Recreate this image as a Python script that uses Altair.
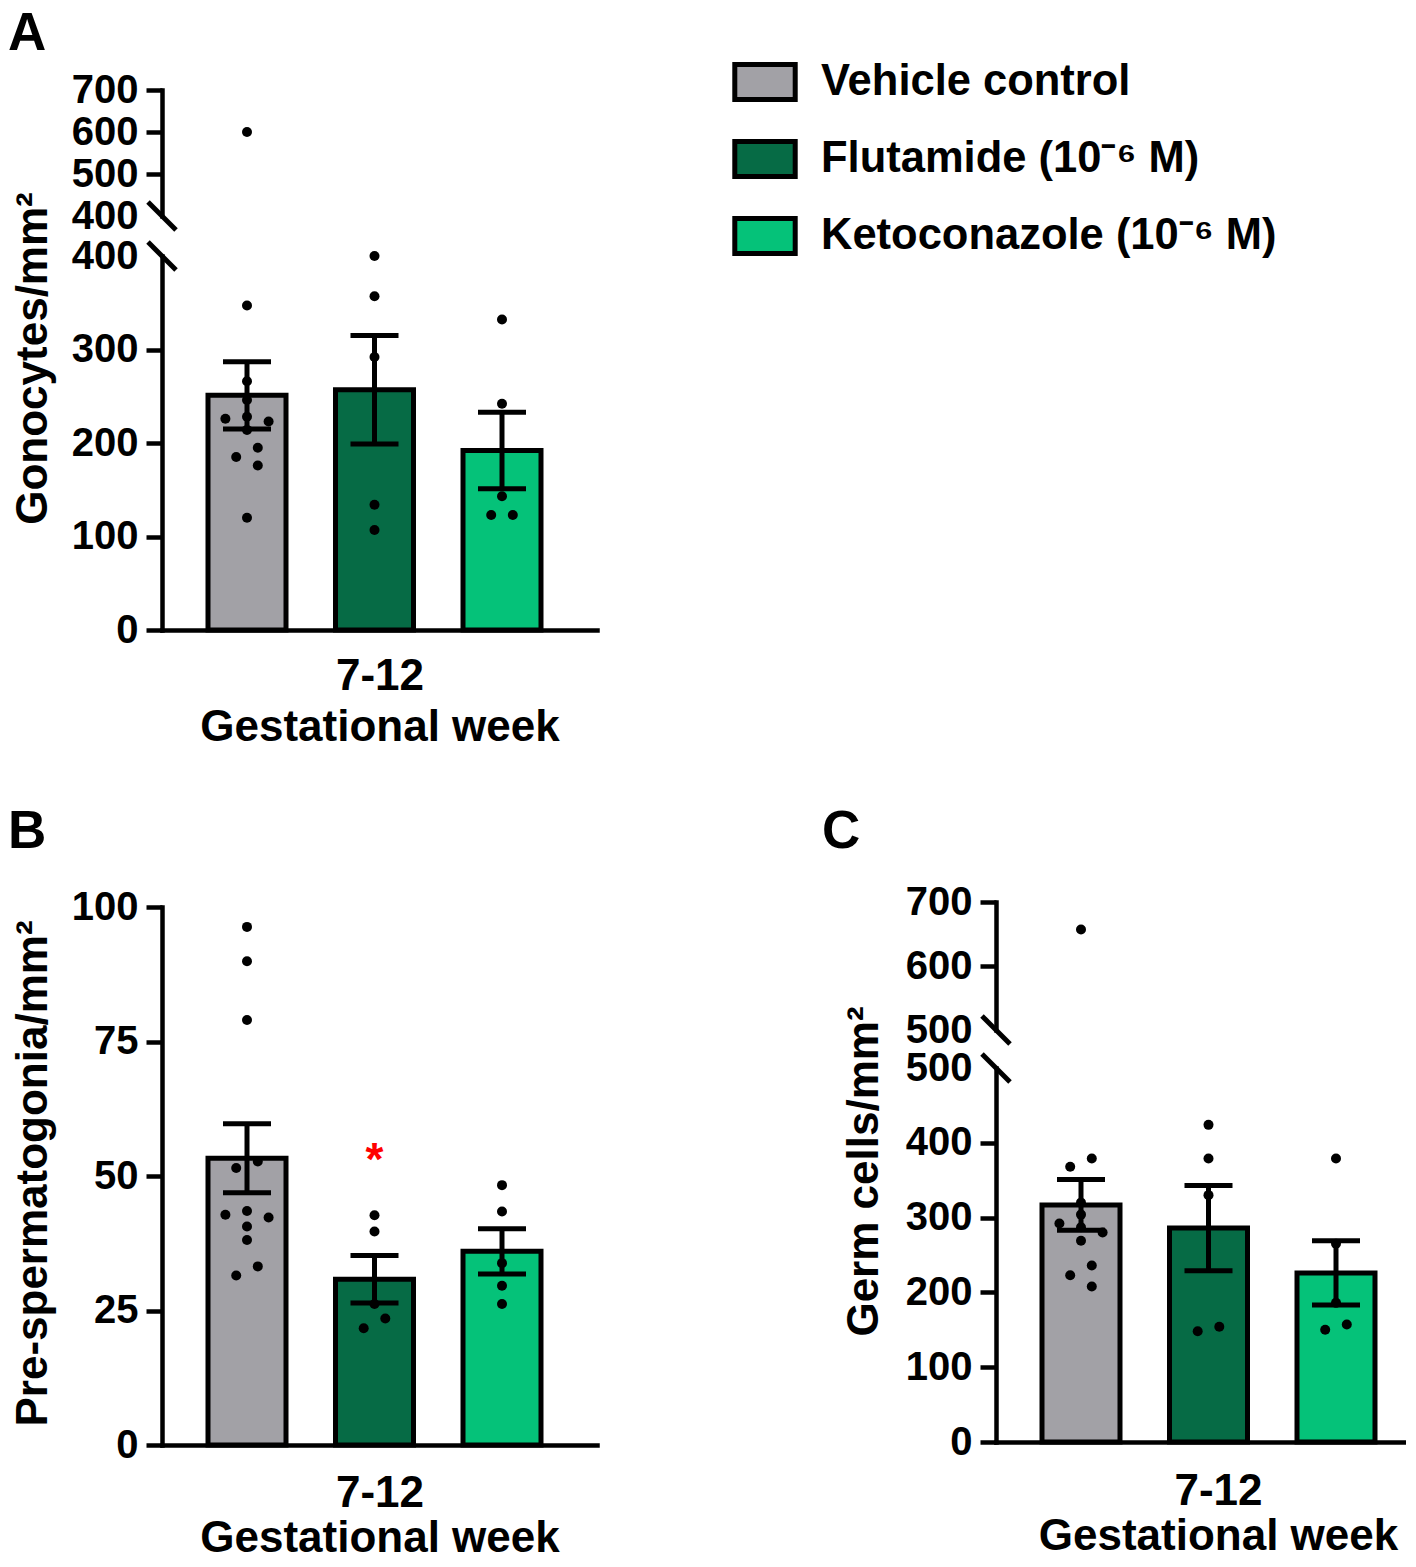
import altair as alt
import pandas as pd

# ---------------- data ----------------
treatments = ["Vehicle control", "Flutamide (10⁻⁶ M)", "Ketoconazole (10⁻⁶ M)"]
bar_colors = ["#A2A1A6", "#066B45", "#05C279"]
week_label = "7-12"
x_title = "Gestational week"

# Panel A: gonocytes / mm2
gono_values = [
    [600, 347, 266, 246, 228, 226, 223, 214, 195, 185, 176, 120],
    [400, 357, 292, 134, 107],
    [332, 242, 143, 123, 123],
]
gono_mean = [251, 257, 192]
gono_sem = [36, 58, 41]

# Panel B: pre-spermatogonia / mm2
pre_values = [
    [96.3, 89.9, 79.0, 52.7, 51.5, 43.5, 42.8, 42.3, 40.6, 38.1, 33.2, 31.5],
    [42.7, 39.7, 26.2, 23.5, 21.7],
    [48.3, 43.4, 33.8, 29.6, 26.2],
]
pre_mean = [53.3, 30.8, 36.0]
pre_sem = [6.4, 4.4, 4.2]
pre_sig = ["", "*", ""]

# Panel C: germ cells / mm2
germ_values = [
    [657, 379, 368, 320, 304, 292, 287, 280, 269, 236, 223, 208],
    [424, 379, 330, 154, 148],
    [379, 265, 186, 157, 150],
]
germ_mean = [317, 286, 226]
germ_sem = [34, 57, 43]

# ---------------- layout ----------------
FONT = "Liberation Sans"
PLOT_W = 435
STEP_PX = 127.5
X_MAX = PLOT_W / STEP_PX
FIRST = 85 / STEP_PX
BAR_HALF = 39 / STEP_PX
CAP_HALF = 24 / STEP_PX
SLOT = 10.8 / STEP_PX
DOT_PX = 11.5
TITLE_FS = 44
LETTER_FS = 53


def swarm_offsets(vals, ppu):
    """Simple beeswarm: offsets in half-slot units."""
    order = sorted(range(len(vals)), key=lambda i: -vals[i])
    offs = [0] * len(vals)
    chains, cur, prev = [], [], None
    for i in order:
        if prev is not None and (vals[prev] - vals[i]) * ppu >= DOT_PX:
            chains.append(cur)
            cur = []
        cur.append(i)
        prev = i
    if cur:
        chains.append(cur)
    for ch in chains:
        placed = []
        for i in ch:
            for c in [0, -1, 1, -2, 2, -3, 3, -4, 4]:
                if all(not (abs(c - offs[j]) < 2 and abs(vals[i] - vals[j]) * ppu < DOT_PX) for j in placed):
                    offs[i] = c
                    placed.append(i)
                    break
        shift = round(sum(offs[i] for i in ch) / len(ch))
        for i in ch:
            offs[i] -= shift
    return offs


def points_df(groups, keep, ppu):
    rows = []
    for g, vals in enumerate(groups):
        sel = [v for v in vals if keep(v)]
        for v, o in zip(sel, swarm_offsets(sel, ppu)):
            rows.append({"treatment": treatments[g], "value": v, "xpos": FIRST + g + o * SLOT})
    return pd.DataFrame(rows)


def bars_df(means, sems):
    return pd.DataFrame({
        "treatment": treatments,
        "mean": means,
        "lo": [m - s for m, s in zip(means, sems)],
        "hi": [m + s for m, s in zip(means, sems)],
        "xc": [FIRST + i for i in range(3)],
        "x1": [FIRST + i - BAR_HALF for i in range(3)],
        "x2": [FIRST + i + BAR_HALF for i in range(3)],
        "c1": [FIRST + i - CAP_HALF for i in range(3)],
        "c2": [FIRST + i + CAP_HALF for i in range(3)],
    })


legend = alt.Legend(
    orient="none", legendX=570, legendY=-41, title=None, direction="vertical",
    symbolType="M-1,-0.58H1V0.58H-1Z", symbolSize=3650, symbolStrokeColor="black",
    symbolStrokeWidth=5, symbolOpacity=1, labelFont=FONT, labelFontSize=43.5,
    labelFontWeight="bold", labelColor="black", labelLimit=1000, labelOffset=23,
    rowPadding=16, padding=0, offset=0,
)
color_enc = alt.Color("treatment:N", scale=alt.Scale(domain=treatments, range=bar_colors),
                      legend=legend, sort=treatments)


def hide_tick(v):
    return {"condition": {"test": f"datum.value === {v}", "value": 0}, "value": 1}


def slash_layer(brk):
    return alt.Chart(pd.DataFrame({"k": [0]})).mark_rule(
        color="black", strokeWidth=5, xOffset=-14, x2Offset=14, yOffset=-14, y2Offset=14
    ).encode(x=alt.datum(0), x2=alt.datum(0), y=alt.datum(brk), y2=alt.datum(brk))


def letter_layer(letter, lx, ly):
    return alt.Chart(pd.DataFrame({"t": [letter]})).mark_text(
        font=FONT, fontSize=LETTER_FS, fontWeight="bold", align="left", baseline="top", color="black"
    ).encode(text="t:N", x=alt.value(lx), y=alt.value(ly))


def x_parts(xt_y, lh, title_x=None):
    xs = alt.Scale(domain=[0, X_MAX], nice=False, zero=False)
    kw = dict(title=[week_label, x_title], labels=False, ticks=False, titleY=xt_y,
              titleBaseline="alphabetic", titleLineHeight=lh, titleLimit=2000,
              titleFontSize=TITLE_FS)
    if title_x is not None:
        kw["titleX"] = title_x
    return xs, alt.Axis(**kw)


def data_layers(groups, means, sems, keep, ppu, xs, xaxis, ys, yaxis, sig=None):
    pts = points_df(groups, keep, ppu)
    bars = bars_df(means, sems)
    layers = [
        alt.Chart(bars).mark_bar(stroke="black", strokeWidth=5, opacity=1).encode(
            x=alt.X("x1:Q", scale=xs, axis=xaxis), x2="x2:Q",
            y=alt.Y("mean:Q", scale=ys, axis=yaxis), y2=alt.datum(0),
            color=color_enc,
        ),
        alt.Chart(bars).mark_rule(color="black", strokeWidth=5).encode(
            x="xc:Q", y="lo:Q", y2="hi:Q"),
        alt.Chart(bars).mark_rule(color="black", strokeWidth=5).encode(
            x="c1:Q", x2="c2:Q", y="hi:Q"),
        alt.Chart(bars).mark_rule(color="black", strokeWidth=5).encode(
            x="c1:Q", x2="c2:Q", y="lo:Q"),
        alt.Chart(pts).mark_circle(size=100, color="black", opacity=1).encode(
            x="xpos:Q", y="value:Q"),
    ]
    if sig is not None:
        sdf = pd.DataFrame({
            "sig": sig,
            "xc": [FIRST + i for i in range(3)],
            "sy": [max(v) + 7.5 for v in groups],
        })
        sdf = sdf[sdf["sig"] != ""]
        layers.append(alt.Chart(sdf).mark_text(
            color="#FF0000", font=FONT, fontSize=46, fontWeight="bold",
            align="center", baseline="alphabetic").encode(x="xc:Q", y="sy:Q", text="sig:N"))
    return layers


def broken_chart(groups, means, sems, brk, top, h_up, gap, h_low, up_vals, low_vals,
                 y_title, title_x, title_y, xt_y, lh, letter, xt_x=None):
    H = h_up + gap + h_low
    xs, xaxis = x_parts(xt_y, lh, xt_x)
    ys_up = alt.Scale(domain=[brk, top], range=[h_up, 0], nice=False, zero=False)
    ys_low = alt.Scale(domain=[0, brk], range=[H, h_up + gap], nice=False, zero=True)
    ax_up = alt.Axis(orient="left", values=up_vals, title=None, labelOverlap=False,
                     tickOpacity=hide_tick(brk))
    ax_low = alt.Axis(orient="left", values=low_vals, title=y_title, labelOverlap=False,
                      titleAngle=270, titleBaseline="alphabetic", titleAlign="center",
                      titleX=title_x, titleY=title_y, titleLimit=2000, titleFontSize=TITLE_FS,
                      tickOpacity=hide_tick(brk))
    pts_up = points_df(groups, lambda v: v > brk, h_up / (top - brk))
    upper = alt.layer(
        alt.Chart(pts_up).mark_circle(size=100, color="black", opacity=1).encode(
            x=alt.X("xpos:Q", scale=xs, axis=xaxis),
            y=alt.Y("value:Q", scale=ys_up, axis=ax_up),
        ),
        slash_layer(brk),
    )
    lower = alt.layer(
        *data_layers(groups, means, sems, lambda v: v <= brk, h_low / brk, xs, xaxis, ys_low, ax_low),
        slash_layer(brk),
        letter_layer(*letter),
    )
    return alt.layer(upper, lower).resolve_scale(y="independent").properties(width=PLOT_W, height=H)


# Panel A
A = broken_chart(gono_values, gono_mean, gono_sem, 400, 700, 126, 40, 374,
                 [400, 500, 600, 700], [0, 100, 200, 300, 400],
                 "Gonocytes/mm²", -116, 268, 59, 51, ("A", -154, -82))

# Panel B
xsB, xaxisB = x_parts(61, 45)
ysB = alt.Scale(domain=[0, 100], range=[543, 5], nice=False, zero=True)
axB = alt.Axis(values=[0, 25, 50, 75, 100], title="Pre-spermatogonia/mm²", labelOverlap=False,
               titleAngle=270, titleBaseline="alphabetic", titleAlign="center",
               titleX=-116, titleY=271, titleLimit=2000, titleFontSize=TITLE_FS)
B = alt.layer(
    *data_layers(pre_values, pre_mean, pre_sem, lambda v: True, 538 / 100, xsB, xaxisB, ysB, axB,
                 sig=pre_sig),
    letter_layer("B", -154, -96),
).properties(width=PLOT_W, height=543)

# Panel C
C = broken_chart(germ_values, germ_mean, germ_sem, 500, 700, 128, 38, 374,
                 [500, 600, 700], [0, 100, 200, 300, 400, 500],
                 "Germ cells/mm²", -119, 269, 62, 45, ("C", -174, -96), xt_x=222)

# empty top-right cell (the legend floats over it)
blank = alt.Chart(pd.DataFrame({"k": [0]})).mark_point(opacity=0).encode(
    x=alt.X("k:Q", axis=None), y=alt.Y("k:Q", axis=None)
).properties(width=100, height=100)

chart = (
    alt.concat(A, blank, B, C, columns=2, spacing={"row": 272, "column": 399}, bounds="flush")
    .resolve_scale(color="shared")
    .properties(padding={"top": 0, "left": 0, "right": -25, "bottom": -6}, background="white")
    .configure_view(strokeWidth=0)
    .configure_axis(
        labelFont=FONT, labelFontSize=40, labelFontWeight="bold", labelColor="black",
        titleFont=FONT, titleFontSize=TITLE_FS, titleFontWeight="bold", titleColor="black",
        domainColor="black", domainWidth=4.5, domainCap="square",
        tickColor="black", tickWidth=4.5, tickSize=16, labelPadding=8, grid=False,
    )
)

chart.save("out.html", embed_options={"renderer": "svg", "actions": False})
